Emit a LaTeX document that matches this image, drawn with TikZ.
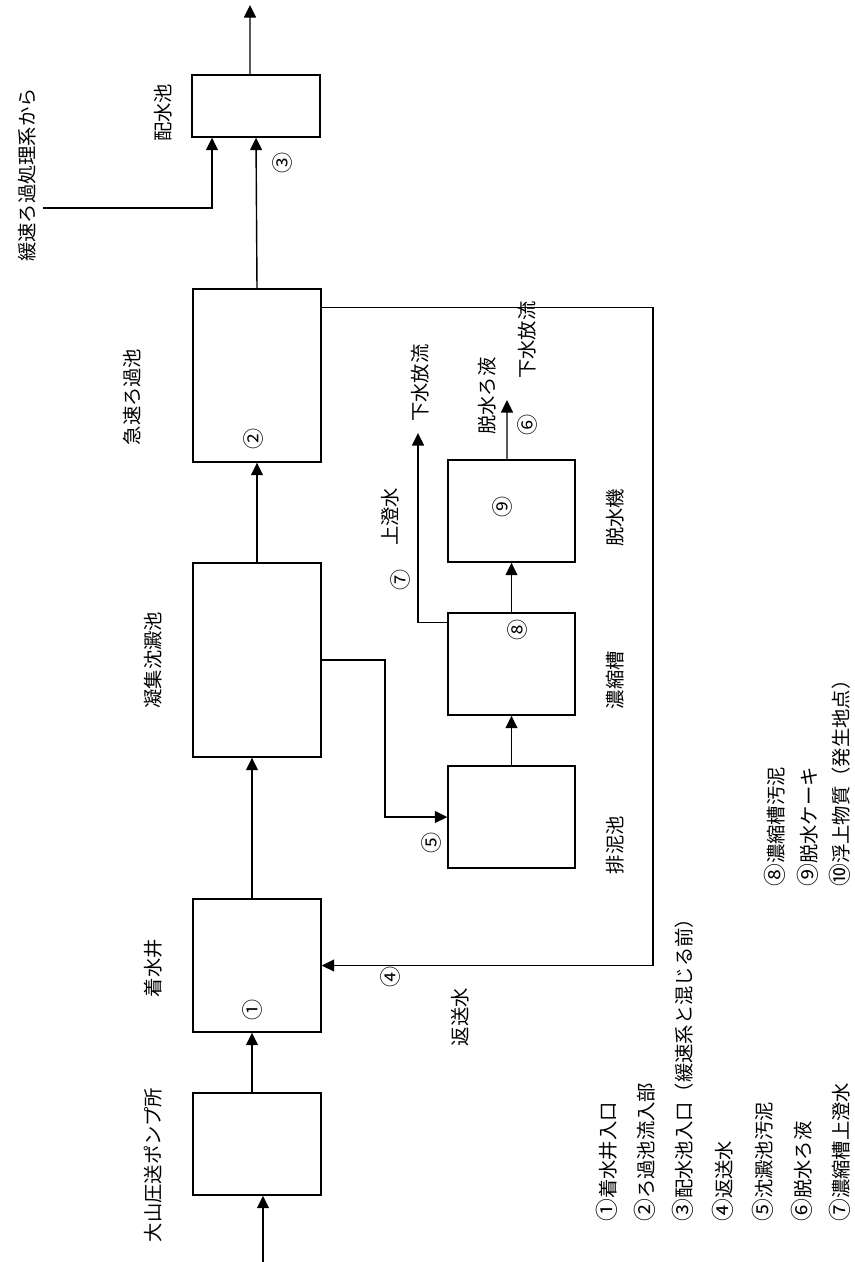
\documentclass[tikz,border=0pt]{standalone}
\usepackage{fontspec}
\setmainfont{Noto Sans CJK JP}
\usetikzlibrary{arrows.meta,positioning}
\newcommand{\legno}[1]{{\fontsize{13}{13}\selectfont #1}}
\tikzset{
  tank/.style={
    draw=black,
    line width=0.8pt,
    inner sep=0pt,
    minimum width=2.56cm
  },
  flow/.style={
    -{Triangle[length=2.5mm,width=2.4mm]},
    line width=0.8pt
  },
  tanklabel/.style={
    rotate=90,
    inner sep=0pt,
    font=\fontsize{11}{13}\selectfont
  },
  pointno/.style={
    rotate=90,
    inner sep=0pt,
    font=\fontsize{12}{13}\selectfont
  },
  legend/.style={
    rotate=90,
    anchor=west,
    inner sep=0pt,
    font=\fontsize{11}{13}\selectfont
  }
}
\begin{document}
\begin{tikzpicture}[x=0.02cm,y=-0.02cm]
    \useasboundingbox (0,0) rectangle (855,1262);
    % main treatment line
    \node[tank, minimum height=2.04cm] (pump) at (257,1144) {};
    \node[tank, minimum height=2.66cm] (well) at (257,965.5) {};
    \node[tank, minimum height=3.88cm] (sed) at (257,660) {};
    \node[tank, minimum height=3.46cm] (rapid) at (257,375.5) {};
    \node[tank, minimum height=1.24cm] (dist) at (256,106) {};
    % sludge line
    \node[tank, minimum width=2.54cm, minimum height=2.04cm] (drain) at (511.5,817) {};
    \node[tank, minimum width=2.54cm, minimum height=2.04cm] (thick) at (511.5,664) {};
    \node[tank, minimum width=2.54cm, minimum height=2.04cm] (dewater) at (511.5,511) {};
    \coordinate (in) at (263,1262);
    \coordinate (out) at (250,5);
    \coordinate (slow) at (43,208);
    \coordinate (retx) at (653,0);
    \coordinate (sludgex) at (385,0);
    \coordinate (sup) at (418,433);
    \coordinate (filt) at (507,400);
    \draw[flow] (in) -- (in |- pump.south);
    \draw[flow] ([xshift=-0.1cm]pump.north) -- ([xshift=-0.1cm]well.south);
    \draw[flow] ([xshift=-0.1cm]well.north) -- ([xshift=-0.1cm]sed.south);
    \draw[flow] (sed.north) -- (rapid.south);
    \draw[flow] (rapid.north) -- (dist.south);
    \draw[flow] ([xshift=-0.12cm]dist.north) -- (out);
    \draw[flow] (slow) -| ([xshift=-0.88cm]dist.south);
    \draw[flow] ([yshift=-0.38cm]rapid.north east) -| (retx |- well.east) -- (well.east);
    \draw[flow] (sed.east) -| (sludgex |- drain.west) -- (drain.west);
    \draw[flow] (drain.north) -- (thick.south);
    \draw[flow] (thick.north) -- (dewater.south);
    \draw[flow] ([yshift=-0.2cm]thick.north west) -| (sup);
    \draw[flow] ([xshift=-0.09cm]dewater.north) -- (filt);
    % labels
    \node[tanklabel] (slowlbl) at (27,175) {緩速ろ過処理系から};
    \node[tanklabel] (distlbl) at (163,113) {配水池};
    \node[tanklabel] (rapidlbl) at (132,397) {急速ろ過池};
    \node[tanklabel] (sedlbl) at (153,660) {凝集沈澱池};
    \node[tanklabel] (welllbl) at (153,968) {着水井};
    \node[tanklabel] (pumplbl) at (153,1165) {大山圧送ポンプ所};
    \node[tanklabel] (returnlbl) at (460,1017) {返送水};
    \node[tanklabel] (suplbl) at (390,517) {上澄水};
    \node[tanklabel] (sewer1) at (420,383) {下水放流};
    \node[tanklabel] (sewer2) at (527,340) {下水放流};
    \node[tanklabel] (filtlbl) at (487,396) {脱水ろ液};
    \node[tanklabel] (drainlbl) at (615,845) {排泥池};
    \node[tanklabel] (thicklbl) at (615,680) {濃縮槽};
    \node[tanklabel] (dewaterlbl) at (615,518) {脱水機};
    % sampling points
    \node[pointno] (p1) at (252,1010) {①};
    \node[pointno] (p2) at (253,439) {②};
    \node[pointno] (p3) at (282,163) {③};
    \node[pointno] (p4) at (390,977) {④};
    \node[pointno] (p5) at (431,843) {⑤};
    \node[pointno] (p6) at (527,425) {⑥};
    \node[pointno] (p7) at (400,580) {⑦};
    \node[pointno] (p8) at (517,630) {⑧};
    \node[pointno] (p9) at (502,507) {⑨};
    % legend
    \node[legend] (leg1) at (607,1222) {\legno{①}着水井入口};
    \node[legend] (leg2) at (645,1222) {\legno{②}ろ過池流入部};
    \node[legend] (leg3) at (683,1222) {\legno{③}配水池入口（緩速系と混じる前）};
    \node[legend] (leg4) at (723,1222) {\legno{④}返送水};
    \node[legend] (leg5) at (763,1222) {\legno{⑤}沈澱池汚泥};
    \node[legend] (leg6) at (802,1222) {\legno{⑥}脱水ろ液};
    \node[legend] (leg7) at (840,1222) {\legno{⑦}濃縮槽上澄水};
    \node[legend] (leg8) at (775,887) {\legno{⑧}濃縮槽汚泥};
    \node[legend] (leg9) at (808,887) {\legno{⑨}脱水ケーキ};
    \node[legend] (leg10) at (840,887) {\legno{⑩}浮上物質（発生地点）};
  \end{tikzpicture}
\end{document}
